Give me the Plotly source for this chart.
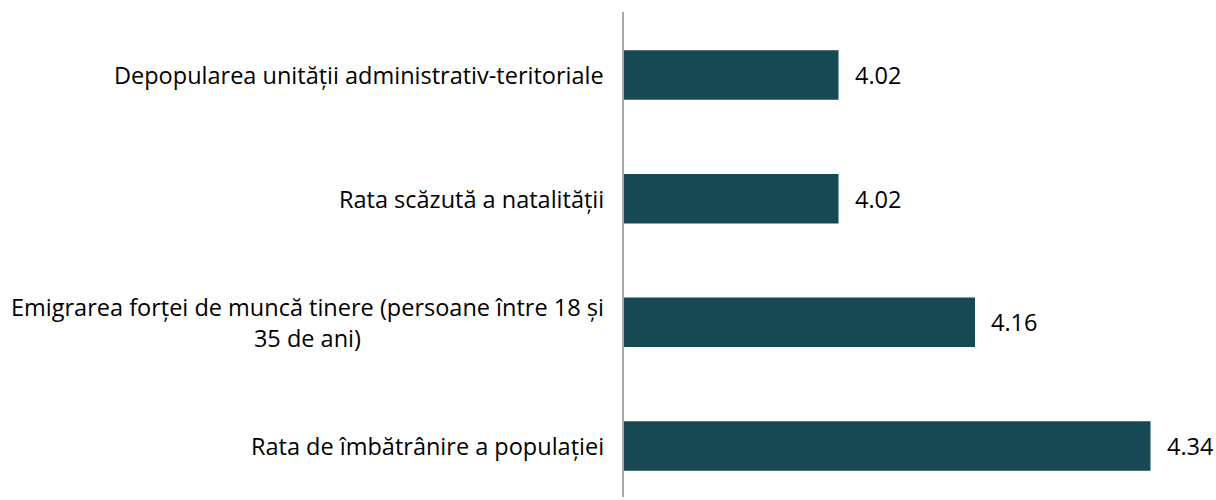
import plotly.graph_objects as go

# Categories listed bottom-to-top, as they appear on the category axis
categories = [
    "Rata de îmbătrânire a populației",
    "Emigrarea forței de muncă tinere (persoane între 18 și<br>35 de ani)",
    "Rata scăzută a natalității",
    "Depopularea unității administrativ-teritoriale",
]
values = [4.34, 4.16, 4.02, 4.02]
value_labels = ["4.34", "4.16", "4.02", "4.02"]

AXIS_START = 3.8
BAR_COLOR = "#174955"
FONT = "Open Sans"
FONT_SIZE = 23.5

fig = go.Figure(
    go.Bar(
        x=[v - AXIS_START for v in values],
        y=categories,
        base=AXIS_START,
        orientation="h",
        width=0.4,
        marker=dict(color=BAR_COLOR, line=dict(width=0)),
        hoverinfo="skip",
    )
)

annotations = []
for cat in categories:
    annotations.append(
        dict(
            x=0, xref="paper", y=cat, yref="y",
            text=cat, showarrow=False,
            xanchor="right", yanchor="middle", align="center",
            xshift=-18,
            font=dict(family=FONT, size=FONT_SIZE, color="#000000"),
        )
    )
for cat, v, lab in zip(categories, values, value_labels):
    annotations.append(
        dict(
            x=v, xref="x", y=cat, yref="y",
            text=lab, showarrow=False,
            xanchor="left", yanchor="middle",
            xshift=14,
            font=dict(family=FONT, size=FONT_SIZE, color="#000000"),
        )
    )

fig.update_layout(
    width=1216,
    height=500,
    margin=dict(l=624, r=7, t=12, b=3),
    paper_bgcolor="white",
    plot_bgcolor="white",
    showlegend=False,
    annotations=annotations,
    xaxis=dict(
        range=[AXIS_START, 4.4],
        visible=False,
        showgrid=False,
        zeroline=False,
    ),
    yaxis=dict(
        type="category",
        categoryorder="array",
        categoryarray=categories,
        range=[-0.412, 3.509],
        showticklabels=False,
        showgrid=False,
        zeroline=False,
        showline=True,
        linecolor="#A6A6A6",
        linewidth=2,
        ticks="",
    ),
)

fig.write_html("out.html")
